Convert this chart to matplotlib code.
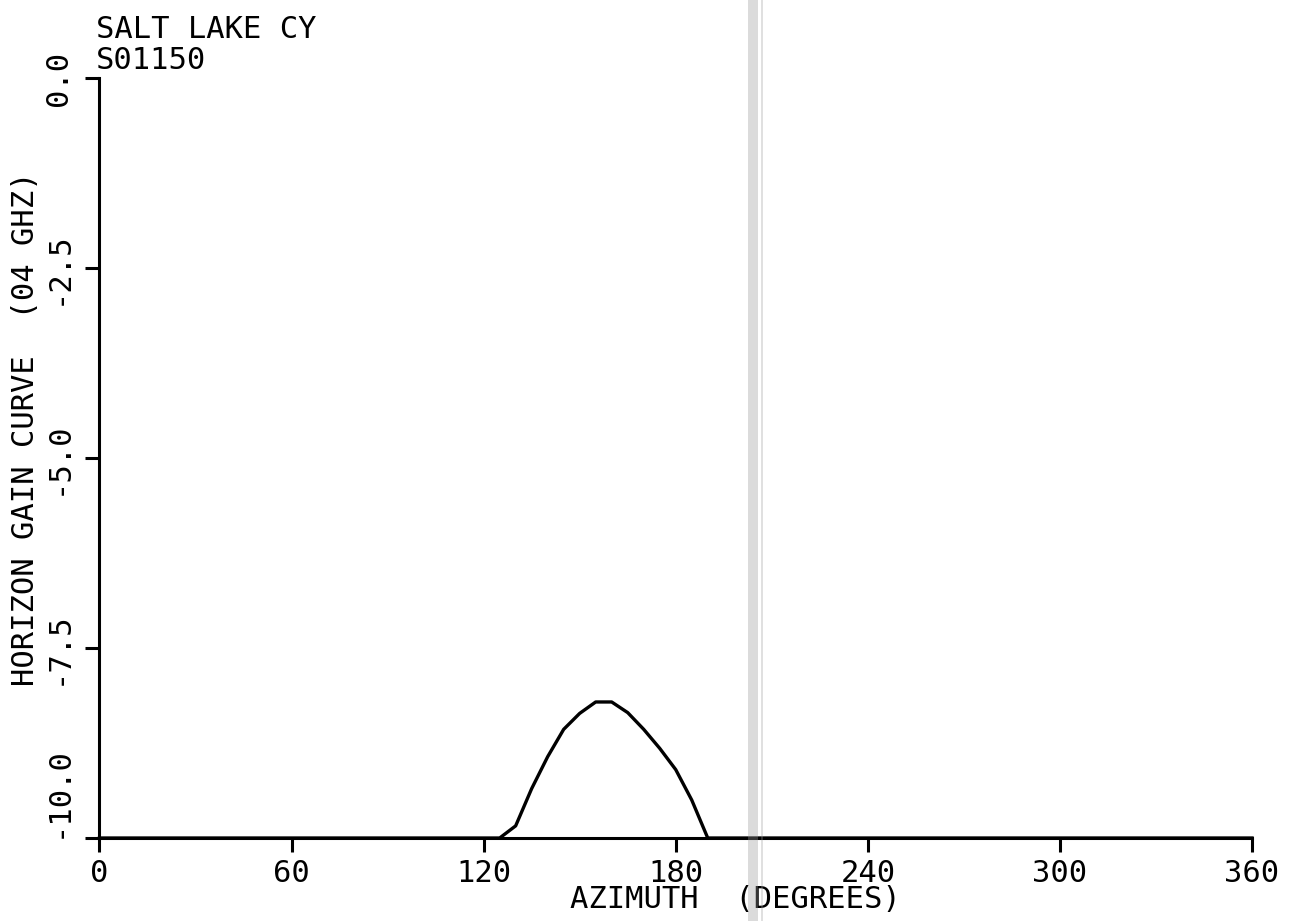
import numpy as np
import matplotlib.pyplot as plt
from matplotlib.patches import Rectangle

# horizon gain curve
azimuth = [0, 125, 130, 135, 140, 145, 150, 155, 160, 165, 170, 175, 180, 185, 190, 360]
gain = [-10.0, -10.0, -9.84, -9.35, -8.93, -8.57, -8.36, -8.21, -8.21, -8.35,
        -8.57, -8.82, -9.10, -9.50, -10.0, -10.0]

xticks = [0, 60, 120, 180, 240, 300, 360]
yticks = [-10.0, -7.5, -5.0, -2.5, 0.0]
title_lines = ['SALT LAKE CY', 'S01150']

plt.rcParams['font.family'] = 'DejaVu Sans Mono'
fs = 22

fig = plt.figure(figsize=(12.95, 9.21), dpi=100)
ax = fig.add_axes([0.0768, 0.0901, 0.89, 0.8252])
ax.set_facecolor('none')

ax.plot(azimuth, gain, color='black', lw=2.4, clip_on=False, solid_joinstyle='round')

ax.set_xlim(0, 360)
ax.set_ylim(-10, 0)
ax.set_xticks(xticks)
ax.set_xticklabels([str(t) for t in xticks])
ax.set_yticks(yticks)
ax.set_yticklabels([f'{t:.1f}' for t in yticks], rotation=90, va='center')
ax.get_yticklabels()[0].set_va('bottom')

for s in ['top', 'right']:
    ax.spines[s].set_visible(False)
for s in ['left', 'bottom']:
    ax.spines[s].set_linewidth(2.2)
ax.tick_params(direction='out', length=10, width=2.2, labelsize=fs)
ax.tick_params(axis='x', pad=5)
ax.tick_params(axis='y', pad=9)

fig.text(0.020, 0.535, 'HORIZON GAIN CURVE  (04 GHZ)', rotation=90,
         ha='center', va='center', fontsize=fs)
fig.text(0.568, 0.023, 'AZIMUTH  (DEGREES)', ha='center', va='center', fontsize=fs)
fig.text(0.074, 0.984, title_lines[0], ha='left', va='top', fontsize=fs)
fig.text(0.074, 0.950, title_lines[1], ha='left', va='top', fontsize=fs)

# faint scanner streak
fig.add_artist(Rectangle((748 / 1295, 0), 10 / 1295, 1, transform=fig.transFigure,
                         color='#9a9a9a', alpha=0.35, zorder=10, lw=0))
fig.add_artist(Rectangle((761 / 1295, 0), 1.5 / 1295, 1, transform=fig.transFigure,
                         color='#9a9a9a', alpha=0.3, zorder=10, lw=0))

fig.savefig('out.png', dpi=100)
